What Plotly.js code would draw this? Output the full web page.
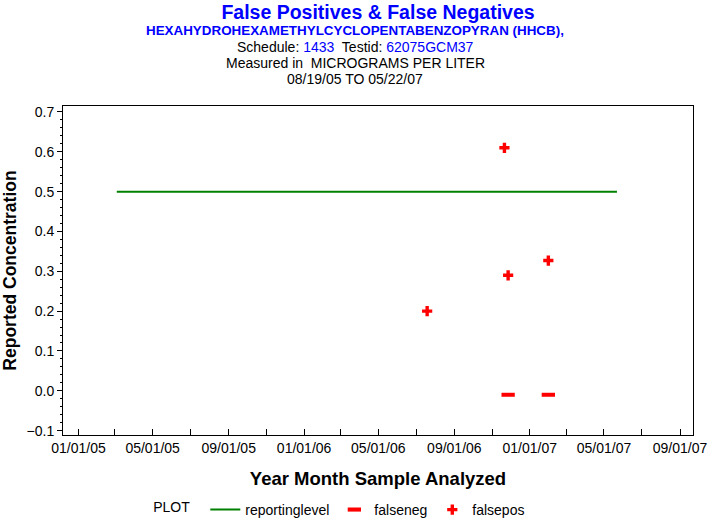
<!DOCTYPE html>
<html>
<head>
<meta charset="utf-8">
<script src="https://cdn.plot.ly/plotly-3.0.1.min.js"></script>
<style>html,body{margin:0;padding:0;background:#fff;}#chart{width:713px;height:523px;}</style>
</head>
<body>
<div id="chart"></div>
<script>
const reportDates = ['2005-03-04', '2007-05-22'];
const reportLevel = [0.5, 0.5];
const falsenegDates = ['2006-11-27', '2007-01-31'];
const falsenegValues = [-0.01, -0.01];
const falseposDates = ['2006-07-19', '2006-11-21', '2006-11-27', '2007-01-31'];
const falseposValues = [0.2, 0.61, 0.29, 0.327];
const yTickVals = [-0.1, 0.0, 0.1, 0.2, 0.3, 0.4, 0.5, 0.6, 0.7];

const FONT = 'Liberation Sans, Arial, Helvetica, sans-serif';
const T = 106, B = 435, H = B - T;
function py(p) { return (B - p) / H; }
const CX = (355 - 63) / 629.7;

const traces = [
  {x: reportDates, y: reportLevel, name: 'reportinglevel', type: 'scatter', mode: 'lines',
   line: {color: '#008000', width: 2}},
  {x: falsenegDates, y: falsenegValues, name: 'falseneg', type: 'scatter', mode: 'markers',
   marker: {symbol: 'line-ew', size: 9.5, color: '#ff0000', line: {color: '#ff0000', width: 4}}},
  {x: falseposDates, y: falseposValues, name: 'falsepos', type: 'scatter', mode: 'markers',
   marker: {symbol: 'cross', size: 8.5, color: '#ff0000', line: {width: 0}}}
];

const layout = {
  width: 713, height: 523,
  margin: {l: 63, r: 20, t: T, b: 523 - B, autoexpand: false},
  paper_bgcolor: '#fff', plot_bgcolor: '#fff',
  font: {family: FONT, color: '#000', size: 13},
  showlegend: true,
  title: {text: '<b>False Positives & False Negatives</b>', x: 0.5, xref: 'paper', xanchor: 'center',
          y: 1 - 12/523, yref: 'container', yanchor: 'middle',
          font: {family: FONT, size: 19.5, color: '#0000ff'}},
  xaxis: {
    type: 'date', range: ['2004-12-07', '2007-09-22'],
    tick0: '2005-01-01', dtick: 'M4', tickformat: '%m/%d/%y',
    ticks: 'inside', ticklen: 6, tickcolor: '#000', tickwidth: 1,
    minor: {dtick: 'M2', ticks: 'inside', ticklen: 6, tickcolor: '#000'},
    showgrid: false, zeroline: false, showline: true, linecolor: '#000', linewidth: 1, mirror: true,
    tickfont: {family: FONT, size: 14, color: '#000'}, automargin: true,
    title: {text: '<b>Year Month Sample Analyzed</b>', font: {family: FONT, size: 18.5, color: '#000'}, standoff: 17}
  },
  yaxis: {
    range: [-0.111, 0.715], tickvals: yTickVals, tickformat: '.1f',
    ticks: 'outside', ticklen: 5, tickcolor: '#000',
    minor: {dtick: 0.02, ticks: 'outside', ticklen: 2, tickcolor: '#000'},
    showgrid: false, zeroline: false, showline: true, linecolor: '#000', linewidth: 1, mirror: true,
    tickfont: {family: FONT, size: 14, color: '#000'}, automargin: true,
    title: {text: '<b>Reported Concentration</b>', font: {family: FONT, size: 17.5, color: '#000'}, standoff: 8}
  },
  legend: {
    orientation: 'h', x: 0.14, xanchor: 'left', y: py(510), yanchor: 'middle',
    title: {text: 'PLOT  ', font: {family: FONT, size: 14, color: '#000'}},
    font: {family: FONT, size: 14, color: '#000'},
    itemwidth: 30, tracegroupgap: 0, bgcolor: 'rgba(0,0,0,0)'
  },
  annotations: [
    {text: '<b>HEXAHYDROHEXAMETHYLCYCLOPENTABENZOPYRAN (HHCB),</b>', xref: 'paper', yref: 'paper',
     x: CX, y: py(31), xanchor: 'center', yanchor: 'middle', showarrow: false,
     font: {family: FONT, size: 13.4, color: '#0000ff'}},
    {text: 'Schedule: <span style="color:#0000ff">1433</span>  Testid: <span style="color:#0000ff">62075GCM37</span>',
     xref: 'paper', yref: 'paper', x: CX, y: py(47), xanchor: 'center', yanchor: 'middle',
     showarrow: false, font: {family: FONT, size: 14, color: '#000'}},
    {text: 'Measured in  MICROGRAMS PER LITER', xref: 'paper', yref: 'paper',
     x: CX, y: py(63), xanchor: 'center', yanchor: 'middle', showarrow: false,
     font: {family: FONT, size: 14, color: '#000'}},
    {text: '08/19/05 TO 05/22/07', xref: 'paper', yref: 'paper',
     x: CX, y: py(79), xanchor: 'center', yanchor: 'middle', showarrow: false,
     font: {family: FONT, size: 14, color: '#000'}}
  ]
};

Plotly.newPlot('chart', traces, layout, {staticPlot: true, displayModeBar: false});
</script>
</body>
</html>
